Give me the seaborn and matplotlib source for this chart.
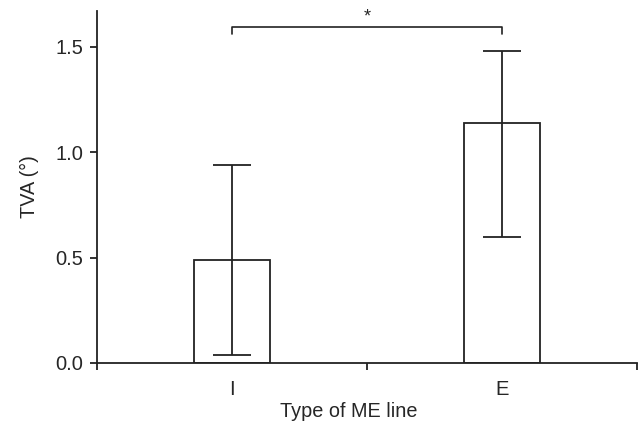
import numpy as np
import pandas as pd
import matplotlib
matplotlib.use("Agg")
import matplotlib.pyplot as plt
import seaborn as sns

# Datos
categorias = ["I", "E"]
medias = [0.49, 1.14]
ic_bajo = [0.04, 0.60]
ic_alto = [0.94, 1.48]
marca_signif = "*"

sns.set_style("ticks")
plt.rcParams["font.family"] = ["Liberation Sans", "DejaVu Sans"]

color_linea = "#222222"
color_texto = "#262626"

df = pd.DataFrame({"tipo": categorias, "tva": medias})

fig = plt.figure(figsize=(6.39, 4.25), dpi=100)
ax = fig.add_axes([97 / 639, 62 / 425, 540 / 639, 352 / 425])

sns.barplot(data=df, x="tipo", y="tva", order=categorias, color="white",
            edgecolor=color_linea, linewidth=1.3, width=0.28, errorbar=None, ax=ax)

# Barras de error asimetricas
pos = np.arange(len(categorias))
yerr = [np.array(medias) - np.array(ic_bajo), np.array(ic_alto) - np.array(medias)]
ax.errorbar(pos, medias, yerr=yerr, fmt="none", ecolor=color_linea,
            elinewidth=1.3, capsize=14, capthick=1.3, zorder=3)

# Corchete de significancia
y_br = 1.595
ax.plot([0, 0, 1, 1], [y_br - 0.035, y_br, y_br, y_br - 0.035],
        color=color_linea, lw=1.2, clip_on=False)
ax.text(0.5, y_br + 0.005, marca_signif, ha="center", va="bottom",
        fontsize=13, color=color_texto)

# Ejes
ax.set_xlim(-0.5, 1.5)
ax.set_ylim(0, 1.67)
ax.set_yticks([0, 0.5, 1.0, 1.5])
ax.set_yticklabels(["0.0", "0.5", "1.0", "1.5"])
ax.set_xticks(pos)
ax.set_xticks([-0.5, 0.5, 1.5], minor=True)
ax.tick_params(axis="x", which="major", length=0, pad=12, labelsize=14.5, colors=color_texto)
ax.tick_params(axis="x", which="minor", length=5, width=1.3, color=color_linea, direction="out")
ax.tick_params(axis="y", length=5, width=1.3, color=color_linea, pad=5,
               labelsize=14.5, labelcolor=color_texto)

for lado in ["top", "right"]:
    ax.spines[lado].set_visible(False)
for lado in ["left", "bottom"]:
    ax.spines[lado].set_color(color_linea)
    ax.spines[lado].set_linewidth(1.3)

ax.set_xlabel("Type of ME line", fontsize=14.3, color=color_texto)
ax.xaxis.set_label_coords(0.466, -0.112)
ax.set_ylabel("TVA (°)", fontsize=14.3, color=color_texto, labelpad=12)

fig.savefig("out.png", dpi=100)
